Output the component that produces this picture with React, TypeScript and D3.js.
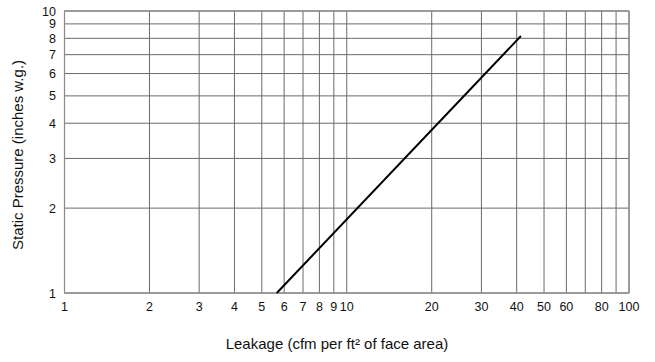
import React from "react";
import * as d3 from "d3";

const xTicks = [1, 2, 3, 4, 5, 6, 7, 8, 9, 10, 20, 30, 40, 50, 60, 80, 100];
const xGrid = [1, 2, 3, 4, 5, 6, 7, 8, 9, 10, 20, 30, 40, 50, 60, 70, 80, 90, 100];
const yTicks = [1, 2, 3, 4, 5, 6, 7, 8, 9, 10];
const leakage = [5.65, 41.4];
const pressure = [1, 8.15];

const W = 655;
const H = 362;
const M = { left: 64.5, right: 629, top: 11, bottom: 293 };

export default function App() {
  const x = d3.scaleLog().domain([1, 100]).range([M.left, M.right]);
  const y = d3.scaleLog().domain([1, 10]).range([M.bottom, M.top]);
  const pts: [number, number][] = leakage.map((v, i) => [v, pressure[i]]);
  const line = d3
    .line<[number, number]>()
    .x((d) => x(d[0]))
    .y((d) => y(d[1]));
  const font = "'Liberation Sans', Arial, sans-serif";
  return (
    <svg
      width={W}
      height={H}
      style={{ position: "absolute", left: 0, top: 0, background: "#fff" }}
    >
      <g stroke="#6a6a6a" strokeWidth={1}>
        {xGrid.map((t) => (
          <line key={"x" + t} x1={x(t)} x2={x(t)} y1={M.top} y2={M.bottom} />
        ))}
        {yTicks.map((t) => (
          <line key={"y" + t} x1={M.left} x2={M.right} y1={y(t)} y2={y(t)} />
        ))}
      </g>
      <rect
        x={M.left}
        y={M.top}
        width={M.right - M.left}
        height={M.bottom - M.top}
        fill="none"
        stroke="#8a8a8a"
        strokeWidth={1.2}
      />
      <path d={line(pts) || ""} fill="none" stroke="#000" strokeWidth={2} />
      <g fontFamily={font} fontSize={12.5} fill="#111">
        {xTicks.map((t) => (
          <text key={"xl" + t} x={x(t)} y={310.5} textAnchor="middle">
            {t}
          </text>
        ))}
        {yTicks.map((t) => (
          <text key={"yl" + t} x={56} y={y(t) + 4.5} textAnchor="end">
            {t}
          </text>
        ))}
      </g>
      <text
        x={337}
        y={349}
        textAnchor="middle"
        fontFamily={font}
        fontSize={15}
        fill="#111"
      >
        Leakage (cfm per ft² of face area)
      </text>
      <text
        transform={`translate(23,${(M.top + M.bottom) / 2 + 3}) rotate(-90)`}
        textAnchor="middle"
        fontFamily={font}
        fontSize={15}
        fill="#111"
      >
        Static Pressure (inches w.g.)
      </text>
    </svg>
  );
}
